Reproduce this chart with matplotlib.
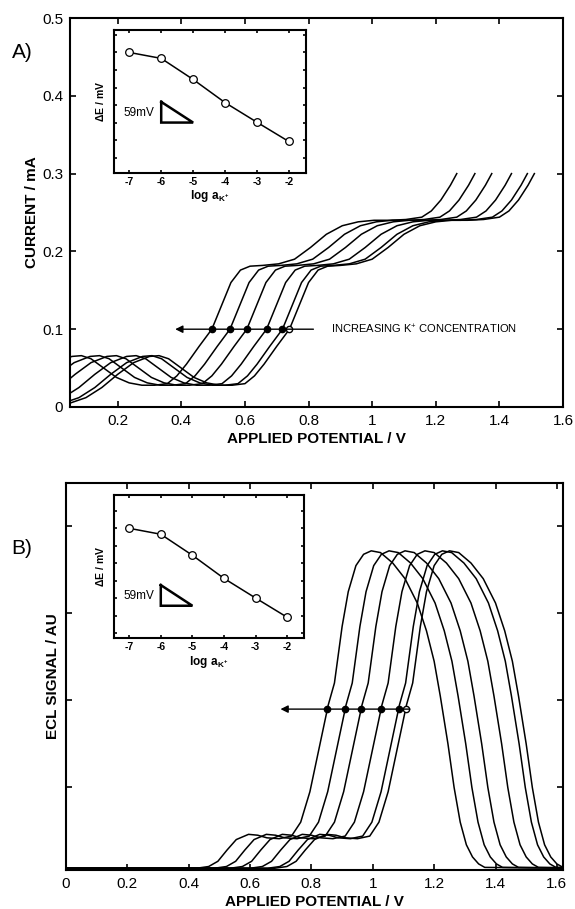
import numpy as np
import matplotlib
matplotlib.use('Agg')
import matplotlib.pyplot as plt
from matplotlib.ticker import MultipleLocator

plt.rcParams['font.family'] = 'Liberation Sans'
plt.rcParams['mathtext.fontset'] = 'custom'
plt.rcParams['mathtext.rm'] = 'Liberation Sans'
plt.rcParams['mathtext.bf'] = 'Liberation Sans:bold'

# inset data: potential difference vs log activity of K+
log_a = [-7, -6, -5, -4, -3, -2]
delta_e = [0, -17, -77, -143, -199, -254]  # mV, relative to the first point

# A) voltammogram of the lowest K+ curve
cv_x = [0.00, 0.05, 0.10, 0.15, 0.20, 0.25, 0.30, 0.33, 0.36, 0.40, 0.44, 0.48,
        0.52, 0.56, 0.60, 0.63, 0.66, 0.70, 0.74, 0.77, 0.80, 0.83, 0.86, 0.90,
        0.95, 1.00, 1.05, 1.10, 1.15, 1.20, 1.25, 1.30, 1.35, 1.40, 1.43, 1.46,
        1.49, 1.51]
cv_y = [0.003, 0.005, 0.012, 0.025, 0.042, 0.057, 0.065, 0.066, 0.062, 0.050,
        0.038, 0.031, 0.028, 0.028, 0.030, 0.040, 0.055, 0.078, 0.100, 0.130,
        0.160, 0.176, 0.181, 0.182, 0.184, 0.190, 0.205, 0.222, 0.233, 0.238,
        0.240, 0.240, 0.241, 0.244, 0.252, 0.266, 0.285, 0.300]
# offset of each curve along the potential axis (V)
shift_a = [0, -0.022, -0.072, -0.134, -0.187, -0.244]

# B) ECL signal of the lowest K+ curve
ecl_x = [0.00, 0.68, 0.72, 0.75, 0.78, 0.81, 0.85, 0.88, 0.91, 0.95, 0.99, 1.02,
         1.05, 1.08, 1.11, 1.13, 1.155, 1.175, 1.20, 1.225, 1.25, 1.28, 1.32,
         1.36, 1.40, 1.43, 1.455, 1.475, 1.50, 1.52, 1.54, 1.56, 1.58, 1.60,
         1.62, 1.90]
ecl_y = [0.07, 0.07, 0.09, 0.15, 0.28, 0.40, 0.46, 0.45, 0.42, 0.41, 0.44, 0.60,
         0.95, 1.45, 1.95, 2.20, 2.85, 3.25, 3.55, 3.68, 3.72, 3.70, 3.58, 3.40,
         3.12, 2.80, 2.45, 2.05, 1.50, 1.00, 0.60, 0.34, 0.20, 0.12, 0.08, 0.07]
shift_b = [0, -0.023, -0.080, -0.145, -0.197, -0.255]

arrow_a_y = 0.1
arrow_b_y = 1.9

fig = plt.figure(figsize=(5.75, 9.09), dpi=100)


def style_axes(ax, lw=1.5, ticklen=4, labelsize=11):
    for sp in ax.spines.values():
        sp.set_linewidth(lw)
    ax.tick_params(direction='in', top=True, right=True, length=ticklen,
                   width=1.2, labelsize=labelsize, pad=5)


def draw_inset(rect, ylim, tri, txt_xy):
    ins = fig.add_axes(rect)
    ins.plot(log_a, delta_e, 'k-', lw=1.1)
    ins.plot(log_a, delta_e, 'o', ms=5.5, mfc='white', mec='k', mew=0.9)
    ins.plot([tri[0], tri[0], tri[1], tri[0]], [tri[2], tri[2] - 59, tri[2] - 59, tri[2]],
             'k-', lw=1.8, solid_joinstyle='miter')
    ins.text(txt_xy[0], txt_xy[1], '59mV', fontsize=8.5, ha='center', va='center')
    ins.set_xlim(-7.48, -1.47)
    ins.set_ylim(*ylim)
    ins.set_xticks(log_a)
    ins.set_xticklabels(['-7', '-6', '-5', '-4', '-3', '-2'], fontweight='bold')
    ins.yaxis.set_major_locator(MultipleLocator(50))
    ins.set_yticklabels([])
    style_axes(ins, lw=1.5, ticklen=2.5, labelsize=7.5)
    ins.tick_params(pad=3)
    ins.set_xlabel(r'$\mathbf{log\ a_{K^{+}}}$', fontsize=8.5, labelpad=1)
    ins.set_ylabel(r'$\mathbf{\Delta E}$ / mV', fontsize=7.5, fontweight='bold', labelpad=3)
    return ins


def arrow_with_dots(ax, xs, ys, shifts, lo, hi, y0, x_head, x_tail):
    xs = np.array(xs)
    ys = np.array(ys)
    m = (xs >= lo) & (xs <= hi)
    x_cross = np.interp(y0, ys[m], xs[m])
    dots = np.array([x_cross + s for s in shifts])
    ax.annotate('', xy=(x_head, y0), xytext=(x_tail, y0),
                arrowprops=dict(arrowstyle='-|>', color='k', lw=1.0, mutation_scale=11))
    ax.plot(dots[1:], [y0] * (len(dots) - 1), 'o', ms=4.5, mfc='k', mec='k')
    ax.plot(dots[:1], [y0], 'o', ms=4.5, mfc='white', mec='k', mew=1)


# ---- panel A ----
ax1 = fig.add_axes([70 / 575, 1 - 407 / 909, 493 / 575, 389 / 909])
for s in shift_a:
    ax1.plot(np.array(cv_x) + s, cv_y, 'k-', lw=1.1)
ax1.set_xlim(0.05, 1.6)
ax1.set_ylim(0, 0.5)
ax1.set_xticks([0.2, 0.4, 0.6, 0.8, 1.0, 1.2, 1.4, 1.6])
ax1.set_xticklabels(['0.2', '0.4', '0.6', '0.8', '1', '1.2', '1.4', '1.6'])
ax1.set_yticks([0, 0.1, 0.2, 0.3, 0.4, 0.5])
ax1.set_yticklabels(['0', '0.1', '0.2', '0.3', '0.4', '0.5'])
style_axes(ax1)
ax1.set_xlabel('APPLIED POTENTIAL / V', fontsize=11, fontweight='bold', labelpad=3)
ax1.set_ylabel('CURRENT / mA', fontsize=11, fontweight='bold')
ax1.yaxis.set_label_coords(-0.062, 0.5)
arrow_with_dots(ax1, cv_x, cv_y, shift_a, 0.56, 0.86, arrow_a_y, 0.372, 0.824)
ax1.text(0.87, arrow_a_y, 'INCREASING K$^{+}$ CONCENTRATION', fontsize=8,
         ha='left', va='center')
fig.text(22 / 575, 1 - 52 / 909, 'A)', fontsize=15, ha='center', va='center')

draw_inset([114 / 575, 1 - 172.7 / 909, 191.7 / 575, 142.7 / 909], (-343, 64),
           (-6, -5, -141), (-6.7, -172))

# ---- panel B ----
ax2 = fig.add_axes([66 / 575, 1 - 870 / 909, 497 / 575, 387 / 909])
for s in shift_b:
    ax2.plot(np.array(ecl_x) + s, ecl_y, 'k-', lw=1.1)
ax2.set_xlim(0, 1.62)
ax2.set_ylim(0.05, 4.5)
ax2.set_xticks([0, 0.2, 0.4, 0.6, 0.8, 1.0, 1.2, 1.4, 1.6])
ax2.set_xticklabels(['0', '0.2', '0.4', '0.6', '0.8', '1', '1.2', '1.4', '1.6'])
ax2.set_yticks([1, 2, 3, 4])
ax2.set_yticklabels([])
style_axes(ax2)
ax2.set_xlabel('APPLIED POTENTIAL / V', fontsize=11, fontweight='bold', labelpad=3)
ax2.set_ylabel('ECL SIGNAL / AU', fontsize=11, fontweight='bold')
ax2.yaxis.set_label_coords(-0.012, 0.5)
arrow_with_dots(ax2, ecl_x, ecl_y, shift_b, 0.95, 1.25, arrow_b_y, 0.69, 1.13)
fig.text(22 / 575, 1 - 548 / 909, 'B)', fontsize=15, ha='center', va='center')

draw_inset([114 / 575, 1 - 638 / 909, 190 / 575, 143 / 909], (-313, 95),
           (-6, -5, -162), (-6.7, -193))

fig.savefig('out.png', dpi=100)
